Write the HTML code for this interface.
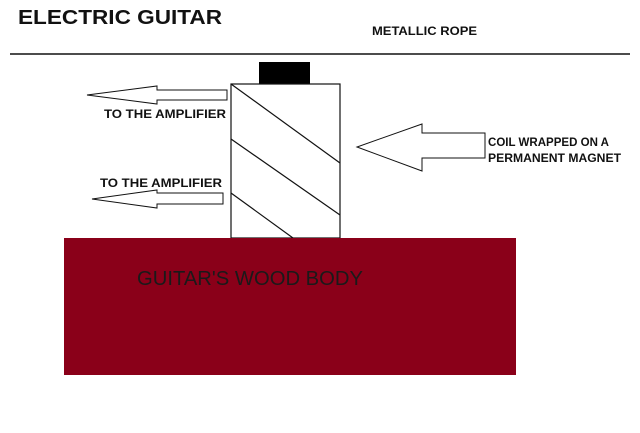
<!DOCTYPE html>
<html><head><style>
body{margin:0;width:640px;height:433px;background:#fff;overflow:hidden}
</style></head><body>
<svg width="640" height="433" xmlns="http://www.w3.org/2000/svg" style="position:absolute;left:0;top:0">
<g font-family="Liberation Sans, sans-serif" font-weight="bold" fill="#111">
<text x="18" y="24" font-size="20" textLength="204" lengthAdjust="spacingAndGlyphs">ELECTRIC GUITAR</text>
<text x="372" y="35" font-size="12" textLength="105" lengthAdjust="spacingAndGlyphs">METALLIC ROPE</text>
<text x="104" y="118" font-size="12" textLength="122" lengthAdjust="spacingAndGlyphs">TO THE AMPLIFIER</text>
<text x="100" y="187" font-size="12" textLength="122" lengthAdjust="spacingAndGlyphs">TO THE AMPLIFIER</text>
<text x="488" y="146" font-size="12" textLength="121" lengthAdjust="spacingAndGlyphs">COIL WRAPPED ON A</text>
<text x="488" y="162" font-size="12" textLength="133" lengthAdjust="spacingAndGlyphs">PERMANENT MAGNET</text>
</g>
<line x1="10" y1="54" x2="630" y2="54" stroke="#111" stroke-width="1.5"/>
<rect x="259" y="62" width="51" height="22" fill="#000"/>
<rect x="231" y="84" width="109" height="154" fill="#fff" stroke="#111" stroke-width="1.2"/>
<g stroke="#111" stroke-width="1.2">
<line x1="231" y1="84" x2="340" y2="163"/>
<line x1="231" y1="139" x2="340" y2="215"/>
<line x1="231" y1="193" x2="293" y2="238"/>
</g>
<g fill="#fff" stroke="#111" stroke-width="1">
<polygon points="227,90 157,90 157,86 87,95 157,104 157,100 227,100"/>
<polygon points="223,193 157,193 157,190 92,199 157,208 157,204 223,204"/>
<polygon points="485,133 422,133 422,124 357,147 422,171 422,158 485,158"/>
</g>
<rect x="64" y="238" width="452" height="137" fill="#8a0019"/>
<text x="137" y="285" font-family="Liberation Sans, sans-serif" font-size="20" fill="#1a1a1a" textLength="226" lengthAdjust="spacingAndGlyphs">GUITAR'S WOOD BODY</text>
</svg>
</body></html>
